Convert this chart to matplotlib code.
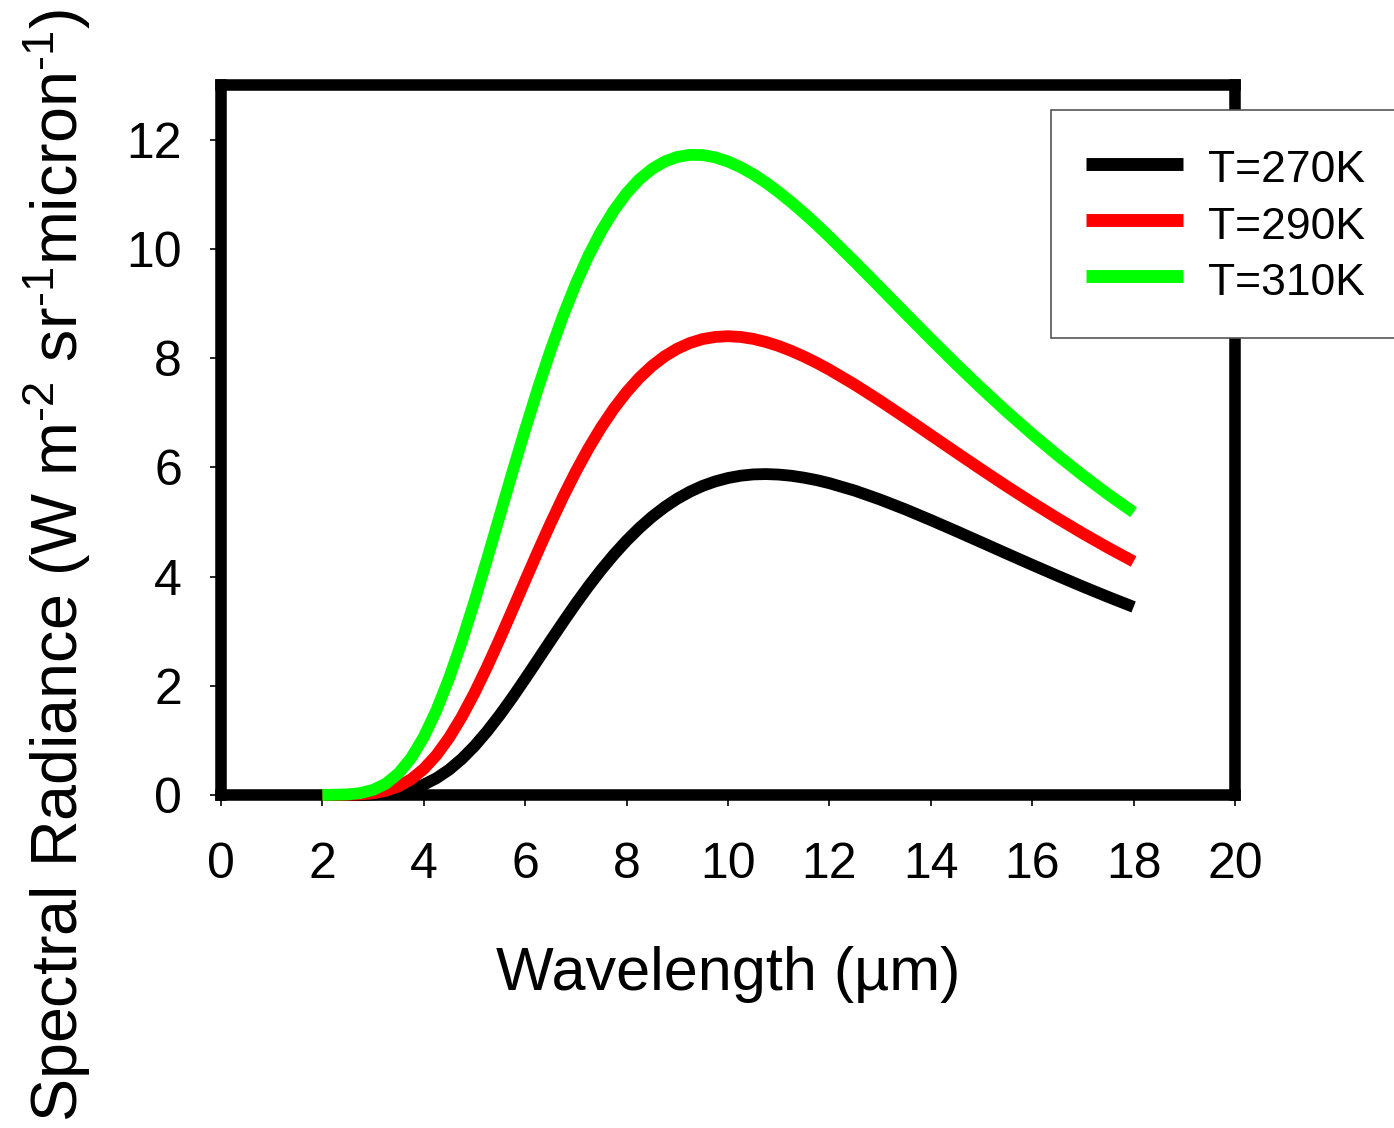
import matplotlib
matplotlib.use("Agg")
import matplotlib.pyplot as plt

plt.rcParams['font.family'] = ['Liberation Sans', 'DejaVu Sans']
plt.rcParams['mathtext.fontset'] = 'custom'
plt.rcParams['mathtext.rm'] = 'Liberation Sans'
plt.rcParams['mathtext.default'] = 'regular'

# wavelength in micron (denser where the curves bend)
wavelength = [2.0, 2.5, 2.75, 3.0, 3.25, 3.5, 3.75, 4.0, 4.25, 4.5, 4.75, 5.0, 5.25,
              5.5, 5.75, 6.0, 6.25, 6.5, 6.75, 7.0, 7.25, 7.5, 7.75, 8.0, 8.25, 8.5,
              8.75, 9.0, 9.25, 9.5, 9.75, 10.0, 10.25, 10.5, 10.75, 11.0, 11.25, 11.5,
              11.75, 12.0, 12.5, 13.0, 13.5, 14.0, 14.5, 15.0, 15.5, 16.0, 16.5, 17.0,
              17.5, 18.0]

rad_270 = [0.000, 0.001, 0.003, 0.009, 0.025, 0.055, 0.108, 0.190, 0.308, 0.464, 0.661,
           0.896, 1.167, 1.467, 1.789, 2.128, 2.476, 2.825, 3.169, 3.504, 3.823, 4.123,
           4.402, 4.657, 4.887, 5.092, 5.271, 5.425, 5.554, 5.660, 5.742, 5.804, 5.846,
           5.870, 5.876, 5.867, 5.845, 5.810, 5.765, 5.709, 5.573, 5.410, 5.229, 5.034,
           4.832, 4.626, 4.419, 4.214, 4.013, 3.816, 3.626, 3.443]
rad_290 = [0.000, 0.003, 0.011, 0.032, 0.077, 0.158, 0.288, 0.477, 0.731, 1.051, 1.433,
           1.869, 2.349, 2.861, 3.391, 3.927, 4.458, 4.973, 5.464, 5.925, 6.349, 6.734,
           7.077, 7.378, 7.637, 7.855, 8.032, 8.172, 8.276, 8.348, 8.387, 8.400, 8.387,
           8.351, 8.294, 8.221, 8.131, 8.028, 7.913, 7.788, 7.514, 7.217, 6.907, 6.590,
           6.273, 5.959, 5.651, 5.353, 5.066, 4.789, 4.526, 4.276]
rad_310 = [0.000, 0.011, 0.035, 0.094, 0.206, 0.395, 0.677, 1.063, 1.553, 2.141, 2.811,
           3.546, 4.323, 5.121, 5.918, 6.696, 7.442, 8.140, 8.783, 9.363, 9.878, 10.326,
           10.705, 11.020, 11.271, 11.462, 11.598, 11.683, 11.721, 11.717, 11.675, 11.599,
           11.494, 11.364, 11.211, 11.039, 10.851, 10.651, 10.441, 10.219, 9.762, 9.292,
           8.817, 8.348, 7.888, 7.444, 7.016, 6.608, 6.220, 5.851, 5.503, 5.176]

labels = ['T=270K', 'T=290K', 'T=310K']
colors = ['#000000', '#ff0000', '#00ff00']

fig = plt.figure(figsize=(13.94, 11.28), dpi=100)
ax = fig.add_axes([221 / 1394, 1 - 795 / 1128, (1235 - 221) / 1394, (795 - 85) / 1128])

for y, lab, c in zip([rad_270, rad_290, rad_310], labels, colors):
    ax.plot(wavelength, y, color=c, lw=8.5, label=lab, solid_capstyle='butt',
            zorder=3, clip_on=False)

ax.set_xlim(0, 20)
ax.set_ylim(0, 13)
ax.set_xticks(range(0, 21, 2))
ax.set_yticks(range(0, 13, 2))
for s in ax.spines.values():
    s.set_linewidth(8.3)
ax.tick_params(direction='out', length=8, width=1.2, labelsize=36)
ax.tick_params(axis='x', pad=26)
ax.tick_params(axis='y', pad=20)

leg = ax.legend(loc='upper left', bbox_to_anchor=(1051 / 1394, 1 - 110 / 1128),
                bbox_transform=fig.transFigure, fontsize=32, frameon=True,
                fancybox=False, framealpha=1, handlelength=2.2, handletextpad=0.56,
                handleheight=1.2, labelspacing=0.21, borderpad=0.78, borderaxespad=0)
leg.get_frame().set_edgecolor('#555555')
leg.get_frame().set_linewidth(1.2)
leg.set_zorder(10)
for h in leg.get_lines():
    h.set_linewidth(9.3)

fig.text(728 / 1394, 1 - 990 / 1128, 'Wavelength (\u00b5m)', fontsize=44,
         ha='center', va='baseline')
fig.text(57 / 1394, 1 - 565 / 1128,
         r'Spectral Radiance (W m$^{\text{-}2}$ sr$^{\text{-}1}$micron$^{\text{-}1}$)',
         fontsize=46.5, rotation=90, ha='center', va='center')

fig.savefig('out.png', dpi=100)
